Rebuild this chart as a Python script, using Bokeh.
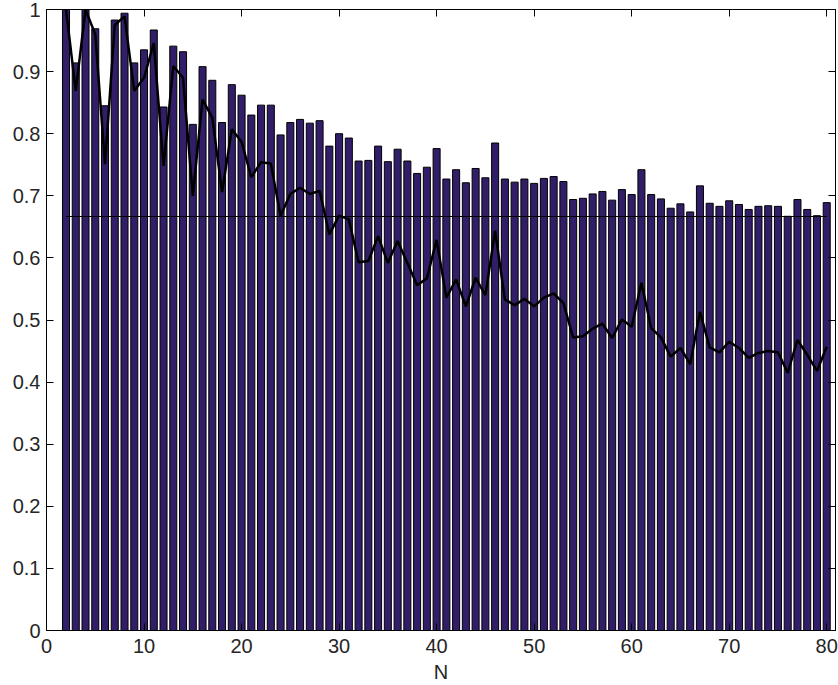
from bokeh.plotting import figure
from bokeh.models import LinearAxis, FixedTicker, Range1d, ColumnDataSource
from bokeh.embed import file_html
from bokeh.resources import INLINE

# ---- data ----
N = list(range(2, 81))
bar_values = [1.0, 0.914, 1.0, 0.969, 0.845, 0.983, 0.994, 0.914, 0.935, 0.967,
              0.843, 0.941, 0.932, 0.815, 0.908, 0.886, 0.818, 0.879, 0.862, 0.830,
              0.846, 0.846, 0.798, 0.818, 0.823, 0.817, 0.821, 0.780, 0.800, 0.793,
              0.756, 0.757, 0.780, 0.755, 0.775, 0.756, 0.736, 0.746, 0.776, 0.727,
              0.742, 0.721, 0.744, 0.729, 0.785, 0.727, 0.722, 0.727, 0.720, 0.728,
              0.731, 0.723, 0.694, 0.696, 0.703, 0.707, 0.693, 0.710, 0.702, 0.742,
              0.702, 0.695, 0.680, 0.687, 0.674, 0.716, 0.688, 0.683, 0.692, 0.686,
              0.678, 0.683, 0.684, 0.683, 0.667, 0.694, 0.678, 0.668, 0.689]
line_values = [1.0, 0.869, 1.0, 0.960, 0.751, 0.975, 0.989, 0.869, 0.890, 0.946,
               0.748, 0.909, 0.890, 0.700, 0.855, 0.826, 0.706, 0.807, 0.787, 0.730,
               0.754, 0.752, 0.668, 0.703, 0.713, 0.703, 0.708, 0.638, 0.668, 0.662,
               0.593, 0.595, 0.635, 0.592, 0.627, 0.592, 0.556, 0.567, 0.629, 0.536,
               0.565, 0.522, 0.568, 0.540, 0.644, 0.533, 0.524, 0.534, 0.522, 0.536,
               0.543, 0.527, 0.472, 0.474, 0.486, 0.494, 0.471, 0.501, 0.489, 0.560,
               0.487, 0.472, 0.441, 0.455, 0.429, 0.513, 0.456, 0.448, 0.465, 0.455,
               0.439, 0.447, 0.450, 0.448, 0.415, 0.468, 0.444, 0.418, 0.457]
ref_x = [2, 80]
ref_level = 2 / 3
x_ticks = [0, 10, 20, 30, 40, 50, 60, 70, 80]
y_ticks = [0, 0.1, 0.2, 0.3, 0.4, 0.5, 0.6, 0.7, 0.8, 0.9, 1.0]
y_tick_labels = ["0", "0.1", "0.2", "0.3", "0.4", "0.5", "0.6", "0.7", "0.8", "0.9", "1"]

FONT = "Liberation Sans"
TXT = "#262626"
FS = "20px"

p = figure(width=838, height=685, output_backend="svg", toolbar_location=None,
           x_range=Range1d(0, 80.9), y_range=Range1d(0, 1),
           min_border_left=46, min_border_right=3, min_border_top=9, min_border_bottom=53)
p.background_fill_color = "white"
p.border_fill_color = "white"
p.outline_line_color = "black"
p.outline_line_width = 1
p.xgrid.visible = False
p.ygrid.visible = False

src = ColumnDataSource(dict(N=N, bar=bar_values, line=line_values))
p.vbar(x="N", top="bar", bottom=0, width=0.72, source=src,
       fill_color="#321d68", line_color="black", line_width=1)
p.line(x="N", y="line", source=src, line_color="black", line_width=2.5)
p.line(x=ref_x, y=[ref_level] * len(ref_x), line_color="black", line_width=1)

def style_axis(ax, ticks, labels=True):
    ax.major_tick_in = 7
    ax.major_tick_out = 0
    ax.minor_tick_line_color = None
    ax.axis_line_color = "black"
    ax.major_tick_line_color = "black"
    if labels:
        ax.major_label_text_font = FONT
        ax.major_label_text_font_size = FS
        ax.major_label_text_color = TXT
    else:
        ax.major_label_overrides = {t: "" for t in ticks}
        ax.major_label_text_font_size = "1px"
        ax.major_label_standoff = 0

xa = p.xaxis[0]
xa.ticker = FixedTicker(ticks=x_ticks)
style_axis(xa, x_ticks)
xa.major_label_standoff = 8
xa.axis_label = "N"
xa.axis_label_text_font = FONT
xa.axis_label_text_font_size = FS
xa.axis_label_text_font_style = "normal"
xa.axis_label_text_color = TXT
xa.axis_label_standoff = 5

ya = p.yaxis[0]
ya.ticker = FixedTicker(ticks=y_ticks)
ya.major_label_overrides = dict(zip(y_ticks, y_tick_labels))
style_axis(ya, y_ticks)
ya.major_label_standoff = 6

top = LinearAxis(ticker=FixedTicker(ticks=x_ticks))
style_axis(top, x_ticks, labels=False)
p.add_layout(top, "above")
right = LinearAxis(ticker=FixedTicker(ticks=y_ticks))
style_axis(right, y_ticks, labels=False)
p.add_layout(right, "right")

open("out.html", "w").write(file_html(p, INLINE))
